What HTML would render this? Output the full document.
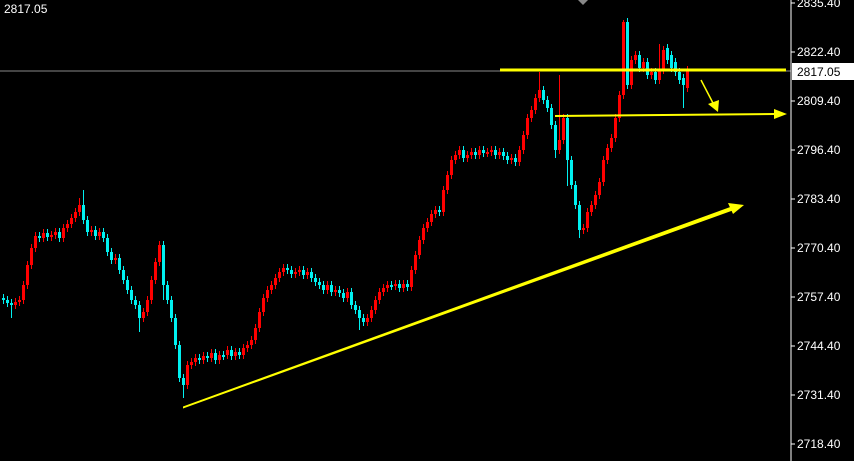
<!DOCTYPE html>
<html><head><meta charset="utf-8"><style>
html,body{margin:0;padding:0;background:#000;width:854px;height:461px;overflow:hidden}
svg{display:block}
text{font-family:"Liberation Sans",sans-serif;font-size:12px;fill:#fff}
</style></head><body>
<svg width="854" height="461" xmlns="http://www.w3.org/2000/svg">
<rect width="854" height="461" fill="#000"/>
<path fill="none" stroke="#ff0000" stroke-width="1" d="M15.5 298V309M19.5 296V306M23.5 281V304M27.5 261V289M31.5 244V269M35.5 232V252M43.5 229V242M51.5 231V241M55.5 228V239M63.5 224V242M67.5 220V232M71.5 214V228M75.5 208V222M79.5 198V216M91.5 226V236M99.5 228V240M115.5 254V264M143.5 308V322M147.5 296V316M151.5 276V304M155.5 258V284M159.5 241V266M187.5 361V389M191.5 358V369M195.5 354V366M203.5 352V364M211.5 349V362M219.5 351V364M227.5 346V359M235.5 348V360M243.5 344V359M247.5 341V352M251.5 336V349M255.5 324V344M259.5 308V332M263.5 294V316M267.5 286V302M271.5 281V294M275.5 274V289M279.5 268V282M283.5 264V276M295.5 268V278M299.5 266V276M307.5 268V279M327.5 281V294M335.5 286V296M347.5 288V302M367.5 314V326M371.5 306V322M375.5 296V314M379.5 288V304M383.5 284V296M387.5 281V292M395.5 280V290M403.5 280V292M411.5 266V291M415.5 251V274M419.5 236V259M423.5 224V244M427.5 218V232M431.5 210V226M435.5 206V218M443.5 186V216M447.5 171V194M451.5 156V179M455.5 151V164M459.5 146V159M467.5 151V162M471.5 148V159M479.5 146V159M487.5 148V157M491.5 146V156M499.5 148V159M511.5 154V164M519.5 146V166M523.5 131V154M527.5 114V139M531.5 106V122M535.5 94V114M539.5 72V102M559.5 75V154M563.5 114V144M583.5 224V234M587.5 208V232M591.5 201V216M595.5 191V209M599.5 178V199M603.5 156V186M607.5 144V164M611.5 134V152M615.5 114V142M619.5 91V122M623.5 20V99M631.5 56V89M635.5 51V64M643.5 58V72M651.5 68V79M659.5 44V84M663.5 46V74M687.5 66V92"/>
<path fill="#ff0000" d="M14 302h3V305h-3zM18 300h3V302h-3zM22 285h3V300h-3zM26 265h3V285h-3zM30 248h3V265h-3zM34 236h3V248h-3zM42 233h3V238h-3zM50 235h3V237h-3zM54 232h3V235h-3zM62 228h3V238h-3zM66 224h3V228h-3zM70 218h3V224h-3zM74 212h3V218h-3zM78 205h3V212h-3zM90 230h3V232h-3zM98 232h3V236h-3zM114 258h3V260h-3zM142 312h3V318h-3zM146 300h3V312h-3zM150 280h3V300h-3zM154 262h3V280h-3zM158 245h3V262h-3zM186 365h3V385h-3zM190 362h3V365h-3zM194 358h3V362h-3zM202 356h3V360h-3zM210 353h3V358h-3zM218 355h3V360h-3zM226 350h3V355h-3zM234 352h3V356h-3zM242 348h3V355h-3zM246 345h3V348h-3zM250 340h3V345h-3zM254 328h3V340h-3zM258 312h3V328h-3zM262 298h3V312h-3zM266 290h3V298h-3zM270 285h3V290h-3zM274 278h3V285h-3zM278 272h3V278h-3zM282 268h3V272h-3zM294 272h3V274h-3zM298 270h3V272h-3zM306 272h3V275h-3zM326 285h3V290h-3zM334 290h3V292h-3zM346 292h3V298h-3zM366 318h3V322h-3zM370 310h3V318h-3zM374 300h3V310h-3zM378 292h3V300h-3zM382 288h3V292h-3zM386 285h3V288h-3zM394 284h3V286h-3zM402 284h3V288h-3zM410 270h3V287h-3zM414 255h3V270h-3zM418 240h3V255h-3zM422 228h3V240h-3zM426 222h3V228h-3zM430 214h3V222h-3zM434 210h3V214h-3zM442 190h3V212h-3zM446 175h3V190h-3zM450 160h3V175h-3zM454 155h3V160h-3zM458 150h3V155h-3zM466 155h3V158h-3zM470 152h3V155h-3zM478 150h3V155h-3zM486 152h3V154h-3zM490 150h3V152h-3zM498 152h3V155h-3zM510 158h3V160h-3zM518 150h3V162h-3zM522 135h3V150h-3zM526 118h3V135h-3zM530 110h3V118h-3zM534 98h3V110h-3zM538 90h3V98h-3zM558 140h3V150h-3zM562 118h3V140h-3zM582 228h3V230h-3zM586 212h3V228h-3zM590 205h3V212h-3zM594 195h3V205h-3zM598 182h3V195h-3zM602 160h3V182h-3zM606 148h3V160h-3zM610 138h3V148h-3zM614 118h3V138h-3zM618 95h3V118h-3zM622 22h3V95h-3zM630 60h3V85h-3zM634 55h3V60h-3zM642 62h3V68h-3zM650 72h3V75h-3zM658 70h3V80h-3zM662 50h3V70h-3zM686 70h3V88h-3z"/>
<path fill="none" stroke="#00f0f0" stroke-width="1" d="M3.5 294V304M7.5 296V307M11.5 299V318M39.5 232V242M47.5 229V241M59.5 228V242M83.5 190V224M87.5 216V236M95.5 226V240M103.5 228V242M107.5 234V256M111.5 248V264M119.5 254V274M123.5 266V284M127.5 276V294M131.5 286V304M135.5 296V309M139.5 301V332M163.5 241V300M167.5 281V304M171.5 296V322M175.5 314V349M179.5 341V382M183.5 374V398M199.5 354V364M207.5 352V362M215.5 349V364M223.5 351V360M231.5 346V360M239.5 348V359M287.5 264V274M291.5 266V278M303.5 266V279M311.5 268V282M315.5 274V286M319.5 278V289M323.5 281V294M331.5 281V296M339.5 286V297M343.5 289V302M351.5 288V309M355.5 301V314M359.5 306V330M363.5 314V326M391.5 281V290M399.5 280V292M407.5 280V291M439.5 206V216M463.5 146V162M475.5 148V159M483.5 146V157M495.5 146V159M503.5 148V160M507.5 152V164M515.5 154V166M543.5 86V104M547.5 96V112M551.5 104V129M555.5 121V158M567.5 114V186M571.5 156V189M575.5 181V209M579.5 201V238M627.5 18V89M639.5 51V72M647.5 58V79M655.5 68V84M667.5 44V64M671.5 51V72M675.5 58V76M679.5 68V84M683.5 74V108"/>
<path fill="#00f0f0" d="M2 298h3V300h-3zM6 300h3V303h-3zM10 303h3V305h-3zM38 236h3V238h-3zM46 233h3V237h-3zM58 232h3V238h-3zM82 205h3V220h-3zM86 220h3V232h-3zM94 230h3V236h-3zM102 232h3V238h-3zM106 238h3V252h-3zM110 252h3V260h-3zM118 258h3V270h-3zM122 270h3V280h-3zM126 280h3V290h-3zM130 290h3V300h-3zM134 300h3V305h-3zM138 305h3V318h-3zM162 245h3V285h-3zM166 285h3V300h-3zM170 300h3V318h-3zM174 318h3V345h-3zM178 345h3V378h-3zM182 378h3V385h-3zM198 358h3V360h-3zM206 356h3V358h-3zM214 353h3V360h-3zM222 355h3V357h-3zM230 350h3V356h-3zM238 352h3V355h-3zM286 268h3V270h-3zM290 270h3V274h-3zM302 270h3V275h-3zM310 272h3V278h-3zM314 278h3V282h-3zM318 282h3V285h-3zM322 285h3V290h-3zM330 285h3V292h-3zM338 290h3V293h-3zM342 293h3V298h-3zM350 292h3V305h-3zM354 305h3V310h-3zM358 310h3V318h-3zM362 318h3V322h-3zM390 285h3V287h-3zM398 284h3V288h-3zM406 284h3V287h-3zM438 210h3V212h-3zM462 150h3V158h-3zM474 152h3V155h-3zM482 150h3V153h-3zM494 150h3V155h-3zM502 152h3V156h-3zM506 156h3V160h-3zM514 158h3V162h-3zM542 90h3V100h-3zM546 100h3V108h-3zM550 108h3V125h-3zM554 125h3V150h-3zM566 118h3V160h-3zM570 160h3V185h-3zM574 185h3V205h-3zM578 205h3V230h-3zM626 22h3V85h-3zM638 55h3V68h-3zM646 62h3V75h-3zM654 72h3V80h-3zM666 48h3V60h-3zM670 55h3V68h-3zM674 62h3V72h-3zM678 72h3V80h-3zM682 78h3V85h-3z"/>
<line x1="0" y1="71" x2="791" y2="71" stroke="#888" stroke-width="1"/>
<line x1="791" y1="0" x2="791" y2="461" stroke="#fff" stroke-width="1"/>
<g stroke="#fff">
<line x1="791" x2="795" y1="3" y2="3"/><line x1="791" x2="795" y1="52" y2="52"/><line x1="791" x2="795" y1="101" y2="101"/><line x1="791" x2="795" y1="150" y2="150"/><line x1="791" x2="795" y1="199" y2="199"/><line x1="791" x2="795" y1="248" y2="248"/><line x1="791" x2="795" y1="297" y2="297"/><line x1="791" x2="795" y1="346" y2="346"/><line x1="791" x2="795" y1="395" y2="395"/><line x1="791" x2="795" y1="444" y2="444"/>
</g>
<text x="797" y="7">2835.40</text>
<text x="797" y="56">2822.40</text>
<text x="797" y="105">2809.40</text>
<text x="797" y="154">2796.40</text>
<text x="797" y="203">2783.40</text>
<text x="797" y="252">2770.40</text>
<text x="797" y="301">2757.40</text>
<text x="797" y="350">2744.40</text>
<text x="797" y="399">2731.40</text>
<text x="797" y="448">2718.40</text>
<text x="4" y="13">2817.05</text>
<polygon points="578,0 588,0 583,5" fill="#888"/>
<line x1="500" y1="70" x2="786" y2="70" stroke="#ffff00" stroke-width="3"/>
<line x1="555" y1="116" x2="775" y2="114" stroke="#ffff00" stroke-width="2"/>
<polygon points="774,109 787,114 774,119" fill="#ffff00"/>
<line x1="701" y1="80" x2="714" y2="105" stroke="#ffff00" stroke-width="1.5"/>
<polygon points="708,104 718,112 719,100" fill="#ffff00"/>
<polygon points="183,408.5 183,406.5 733,206 734,210" fill="#ffff00"/>
<polygon points="728,203 744,205 733,214" fill="#ffff00"/>
<rect x="792" y="63" width="62" height="17" fill="#fff"/>
<text x="797" y="76" style="fill:#000">2817.05</text>
</svg>
</body></html>
